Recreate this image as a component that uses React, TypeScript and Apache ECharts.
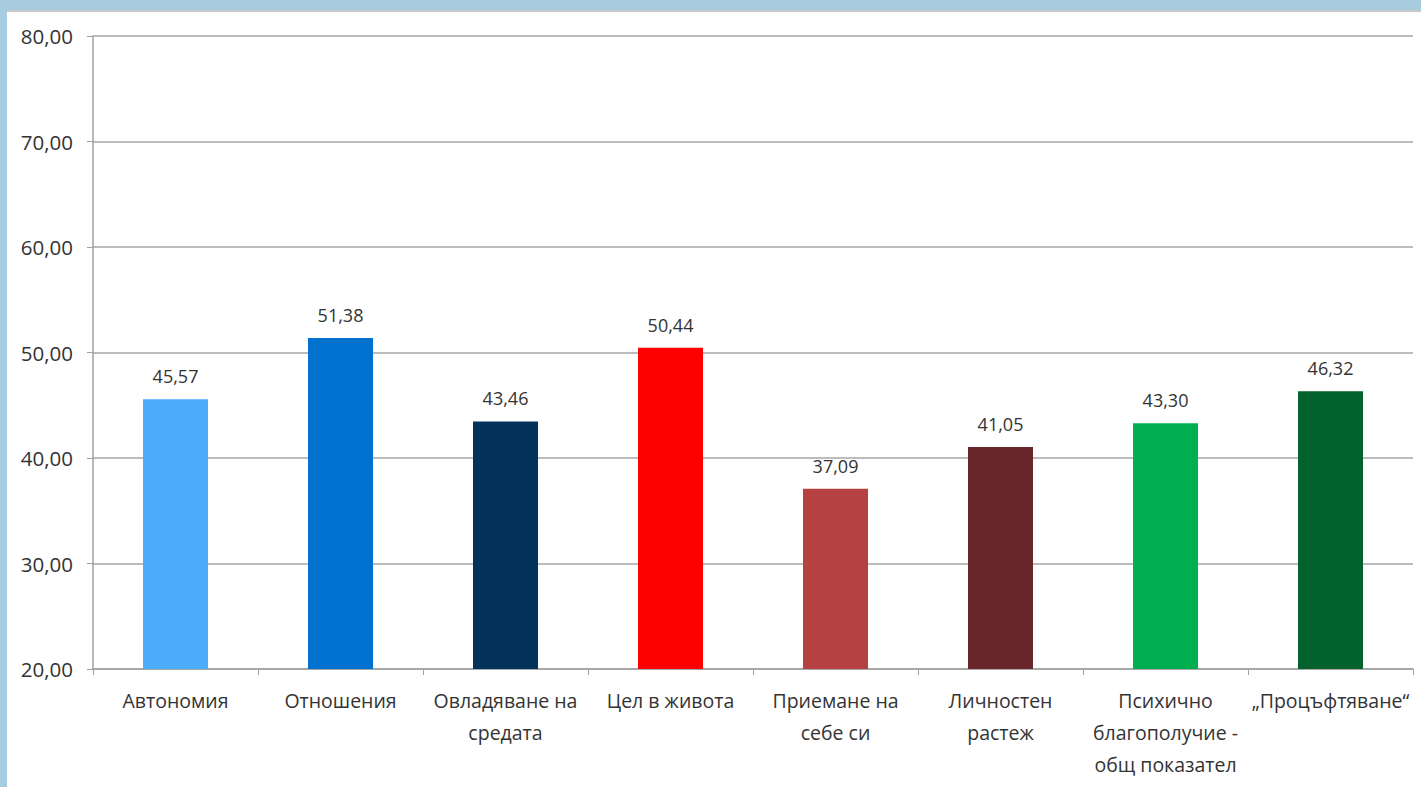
import React, { useEffect, useRef } from "react";
import * as echarts from "echarts";

const categories = [
  "Автономия",
  "Отношения",
  "Овладяване на\nсредата",
  "Цел в живота",
  "Приемане на\nсебе си",
  "Личностен\nрастеж",
  "Психично\nблагополучие -\nобщ показател",
  "„Процъфтяване“",
];
const values = [45.57, 51.38, 43.46, 50.44, 37.09, 41.05, 43.3, 46.32];
const barColors = [
  "#4BADFB",
  "#0272D0",
  "#03335A",
  "#FD0000",
  "#B54141",
  "#69262A",
  "#01AF50",
  "#02612D",
];
const yTicks = { min: 20, max: 80, interval: 10 };

const fmt = (v: number) => v.toFixed(2).replace(".", ",");

export default function App() {
  const ref = useRef<HTMLDivElement>(null);
  useEffect(() => {
    if (!ref.current) return;
    const chart = echarts.init(ref.current, undefined, { renderer: "svg" });
    const font = "'Open Sans', sans-serif";
    chart.setOption({
      animation: false,
      backgroundColor: "#ffffff",
      graphic: [
        { type: "rect", shape: { x: 0, y: 0, width: 1421, height: 10 }, style: { fill: "#A8CCDF" } },
        { type: "rect", shape: { x: 0, y: 0, width: 7, height: 787 }, style: { fill: "#A8CCDF" } },
        { type: "rect", shape: { x: 7, y: 10, width: 1414, height: 2 }, style: { fill: "#C8C8C8" } },
      ],
      grid: { left: 93, right: 8, top: 36, bottom: 118, containLabel: false },
      xAxis: {
        type: "category",
        data: categories,
        axisLine: { lineStyle: { color: "#A0A0A0", width: 1.5 } },
        axisTick: { show: true, length: 6, lineStyle: { color: "#A0A0A0" } },
        axisLabel: {
          interval: 0,
          color: "#333333",
          fontFamily: font,
          fontSize: 19.5,
          lineHeight: 32,
          margin: 15,
        },
      },
      yAxis: {
        type: "value",
        min: yTicks.min,
        max: yTicks.max,
        interval: yTicks.interval,
        axisLine: { show: true, lineStyle: { color: "#A0A0A0", width: 1.5 } },
        axisTick: { show: true, length: 6, lineStyle: { color: "#A0A0A0" } },
        splitLine: { lineStyle: { color: "#A6A6A6", width: 1.5 } },
        axisLabel: {
          formatter: (v: number) => fmt(v),
          color: "#333333",
          fontFamily: font,
          fontSize: 20.5,
          margin: 20,
        },
      },
      series: [
        {
          type: "bar",
          barWidth: 65,
          data: values.map((v, i) => ({ value: v, itemStyle: { color: barColors[i] } })),
          label: {
            show: true,
            position: "top",
            distance: 14,
            formatter: (p: any) => fmt(p.value),
            color: "#333333",
            fontFamily: font,
            fontSize: 18,
          },
        },
      ],
    });
    return () => chart.dispose();
  }, []);
  return (
    <div
      ref={ref}
      style={{ position: "fixed", left: 0, top: 0, width: 1421, height: 787 }}
    />
  );
}
